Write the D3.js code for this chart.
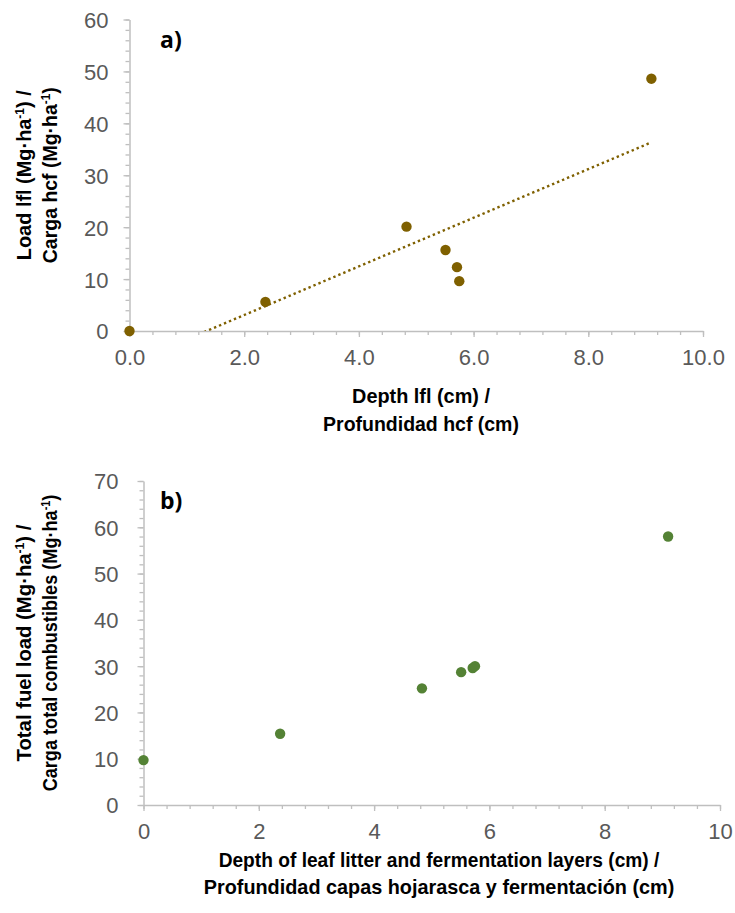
<!DOCTYPE html>
<html><head><meta charset="utf-8">
<script src="https://cdn.jsdelivr.net/npm/d3@7"></script>
<style>body{margin:0;background:#fff} svg{display:block}</style>
</head><body>
<svg id="c" width="735" height="913"></svg>
<script>
// ---- data ----
const depthCm   = [0, 2.37, 4.83, 5.51, 5.71, 5.75, 9.10];
const loadLfl   = [0, 5.6, 20.1, 15.6, 12.3, 9.6, 48.6];
const totalLoad = [9.7, 15.4, 25.2, 28.7, 29.6, 30.0, 58.0];
const xTicksA = [0, 2, 4, 6, 8, 10];
const yTicksA = [0, 10, 20, 30, 40, 50, 60];
const xTicksB = [0, 2, 4, 6, 8, 10];
const yTicksB = [0, 10, 20, 30, 40, 50, 60, 70];

const svg = d3.select('#c');
const TICKFONT = '"Liberation Sans", Arial, sans-serif';
const TITLEFONT = '"Liberation Sans Narrow", "Liberation Sans", Arial, sans-serif';

function fitWidth(textNode, target) {
  const w = textNode.getComputedTextLength();
  if (w > 0) d3.select(textNode).attr('transform', `scale(${target / w},1)`);
}

function addRich(textSel, parts) {
  parts.forEach(p => {
    if (p.sup) {
      textSel.append('tspan').attr('dy', -7).attr('font-size', 12).text(p.t);
    } else if (p.after) {
      textSel.append('tspan').attr('dy', 7).text(p.t);
    } else {
      textSel.append('tspan').text(p.t);
    }
  });
}

function panel(cfg) {
  const g = svg.append('g');
  const x = d3.scaleLinear().domain([0, cfg.xMax]).range([cfg.left, cfg.right]);
  const y = d3.scaleLinear().domain([0, cfg.yMax]).range([cfg.bottom, cfg.top]);
  const axisCol = '#bfbfbf';

  // minor ticks
  const xMinor = d3.range(0, cfg.xMax + 1e-9, 0.4);
  const yMinor = d3.range(0, cfg.yMax + 1e-9, 2);
  g.append('g').attr('transform', `translate(0,${cfg.bottom})`)
    .call(d3.axisBottom(x).tickValues(xMinor).tickSize(4).tickFormat(''))
    .call(s => s.select('.domain').remove())
    .call(s => s.selectAll('line').attr('stroke', axisCol).attr('stroke-width', 1.3));
  g.append('g').attr('transform', `translate(${cfg.left},0)`)
    .call(d3.axisLeft(y).tickValues(yMinor).tickSize(4).tickFormat(''))
    .call(s => s.select('.domain').remove())
    .call(s => s.selectAll('line').attr('stroke', axisCol).attr('stroke-width', 1.3));

  // major axes
  const xa = g.append('g').attr('transform', `translate(0,${cfg.bottom})`)
    .call(d3.axisBottom(x).tickValues(cfg.xTicks).tickSize(6).tickSizeOuter(0).tickFormat(cfg.xFmt));
  const ya = g.append('g').attr('transform', `translate(${cfg.left},0)`)
    .call(d3.axisLeft(y).tickValues(cfg.yTicks).tickSize(6).tickSizeOuter(0).tickFormat(d3.format('d')));
  [xa, ya].forEach(a => {
    a.select('.domain').attr('stroke', axisCol).attr('stroke-width', 1.5);
    a.selectAll('line').attr('stroke', axisCol).attr('stroke-width', 1.3);
    a.selectAll('text').attr('fill', '#595959').attr('font-family', TICKFONT).attr('font-size', 22);
  });
  xa.selectAll('text').attr('y', 34).attr('dy', 0);
  ya.selectAll('text').attr('x', -cfg.yLabelGap).attr('dy', '0.36em');

  // clip
  const clipId = 'clip' + cfg.label[0];
  svg.append('clipPath').attr('id', clipId).append('rect')
    .attr('x', cfg.left).attr('y', cfg.top - 10)
    .attr('width', cfg.right - cfg.left + 10).attr('height', cfg.bottom - cfg.top + 10);

  // trendline (least-squares from data)
  if (cfg.trend) {
    const n = cfg.xs.length;
    const mx = d3.mean(cfg.xs), my = d3.mean(cfg.ys);
    let sxy = 0, sxx = 0;
    for (let i = 0; i < n; i++) { sxy += (cfg.xs[i] - mx) * (cfg.ys[i] - my); sxx += (cfg.xs[i] - mx) ** 2; }
    const b = sxy / sxx, a0 = my - b * mx;
    const x0 = d3.min(cfg.xs), x1 = d3.max(cfg.xs);
    g.append('line').attr('clip-path', `url(#${clipId})`)
      .attr('x1', x(x0)).attr('y1', y(a0 + b * x0))
      .attr('x2', x(x1)).attr('y2', y(a0 + b * x1))
      .attr('stroke', cfg.color).attr('stroke-width', 2.4)
      .attr('stroke-dasharray', '2.4,3');
  }

  // points
  g.selectAll('circle.pt').data(cfg.xs.map((d, i) => [d, cfg.ys[i]])).join('circle')
    .attr('class', 'pt')
    .attr('cx', d => x(d[0])).attr('cy', d => y(d[1])).attr('r', 5.2)
    .attr('fill', cfg.color);

  // panel label
  g.append('text').attr('x', 160).attr('y', cfg.top + 28)
    .attr('font-family', '"Open Sans", "Liberation Sans", sans-serif').attr('font-weight', 700)
    .attr('font-size', 23).attr('fill', '#000').text(cfg.label);

  // x title
  cfg.xTitle.forEach((line, i) => {
    const t = g.append('g').attr('transform', `translate(${cfg.xTitleCx},${cfg.xTitleY[i]})`)
      .append('text').attr('text-anchor', 'middle')
      .attr('font-family', TITLEFONT).attr('font-weight', 700).attr('font-size', 20)
      .attr('fill', '#000').text(line);
    fitWidth(t.node(), cfg.xTitleW[i]);
  });
  // y title
  const cy = (cfg.top + cfg.bottom) / 2;
  cfg.yTitle.forEach((parts, i) => {
    const t = g.append('g').attr('transform', `translate(${cfg.yTitleX[i]},${cy}) rotate(-90)`)
      .append('text').attr('text-anchor', 'middle')
      .attr('font-family', TITLEFONT).attr('font-weight', 700).attr('font-size', 20)
      .attr('fill', '#000');
    addRich(t, parts);
    fitWidth(t.node(), cfg.yTitleW[i]);
  });
}

panel({
  left: 129.5, right: 703, top: 19.5, bottom: 331,
  xMax: 10, yMax: 60, xTicks: xTicksA, yTicks: yTicksA, xFmt: d3.format('.1f'),
  yLabelGap: 21,
  xs: depthCm, ys: loadLfl, color: '#7F6000', trend: true, label: 'a)',
  xTitle: ['Depth lfl (cm) /', 'Profundidad hcf (cm)'], xTitleCx: 421, xTitleY: [403, 431], xTitleW: [138, 196],
  yTitle: [
    [{t: 'Load lfl (Mg·ha'}, {t: '-1', sup: true}, {t: ') /', after: true}],
    [{t: 'Carga hcf (Mg·ha'}, {t: '-1', sup: true}, {t: ')', after: true}]
  ],
  yTitleX: [31, 57], yTitleW: [170, 176]
});

panel({
  left: 143.5, right: 720, top: 481, bottom: 805,
  xMax: 10, yMax: 70, xTicks: xTicksB, yTicks: yTicksB, xFmt: d3.format('d'),
  yLabelGap: 25,
  xs: depthCm, ys: totalLoad, color: '#548235', trend: false, label: 'b)',
  xTitle: ['Depth of leaf litter and fermentation layers (cm) /', 'Profundidad capas hojarasca y fermentación (cm)'],
  xTitleCx: 439, xTitleY: [867, 894], xTitleW: [441, 471],
  yTitle: [
    [{t: 'Total fuel load (Mg·ha'}, {t: '-1', sup: true}, {t: ') /', after: true}],
    [{t: 'Carga total combustibles (Mg·ha'}, {t: '-1', sup: true}, {t: ')', after: true}]
  ],
  yTitleX: [31, 57], yTitleW: [237, 297]
});
</script>
</body></html>
